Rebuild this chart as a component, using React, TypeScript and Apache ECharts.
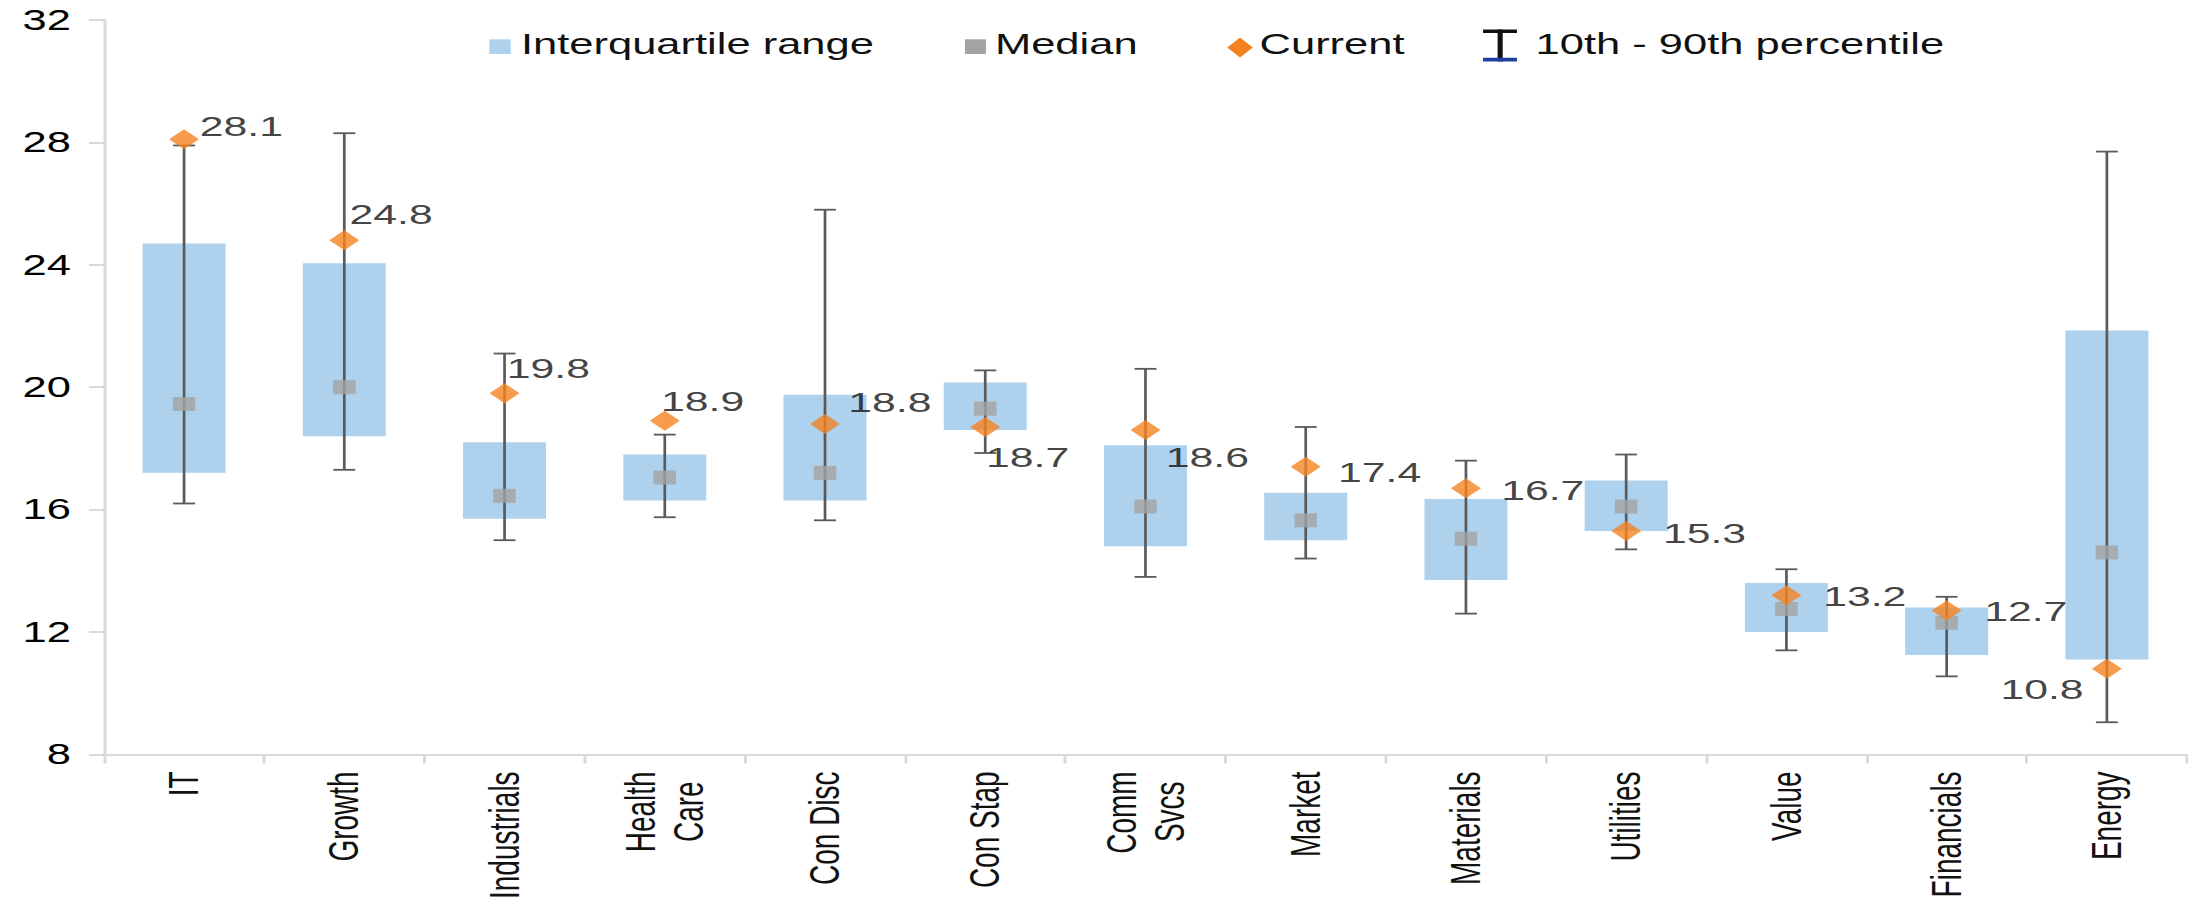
import React, { useEffect, useRef } from "react";
import * as echarts from "echarts";

// ---- data ----
const categories = [
  "IT",
  "Growth",
  "Industrials",
  "Health\nCare",
  "Con Disc",
  "Con Stap",
  "Comm\nSvcs",
  "Market",
  "Materials",
  "Utilities",
  "Value",
  "Financials",
  "Energy",
];
const q1 = [17.2, 18.4, 15.7, 16.3, 16.3, 18.6, 14.8, 15.0, 13.7, 15.3, 12.0, 11.25, 11.1];
const q3 = [24.7, 24.05, 18.2, 17.8, 19.75, 20.15, 18.1, 16.55, 16.35, 16.95, 13.6, 12.8, 21.85];
const median = [19.45, 20.0, 16.45, 17.05, 17.2, 19.3, 16.1, 15.65, 15.05, 16.1, 12.75, 12.3, 14.6];
const p10 = [16.2, 17.3, 15.0, 15.75, 15.65, 17.85, 13.8, 14.4, 12.6, 14.7, 11.4, 10.55, 9.05];
const p90 = [27.9, 28.3, 21.1, 18.45, 25.8, 20.55, 20.6, 18.7, 17.6, 17.8, 14.05, 13.15, 27.7];
const current = [28.1, 24.8, 19.8, 18.9, 18.8, 18.7, 18.6, 17.4, 16.7, 15.3, 13.2, 12.7, 10.8];

const yMin = 8;
const yMax = 32;
const yStep = 4;

const legendNames = ["Interquartile range", "Median", "Current", "10th - 90th percentile"];

// ---- label placement for the "Current" values (style, not data) ----
const currentLabelPlacement: { pos: string; dx: number; dy: number }[] = [
  { pos: "right", dx: 0.5, dy: -13 },
  { pos: "right", dx: -6.5, dy: -26 },
  { pos: "right", dx: -8.5, dy: -25 },
  { pos: "right", dx: -12.5, dy: -20 },
  { pos: "right", dx: 5.5, dy: -22 },
  { pos: "right", dx: -9.5, dy: 30 },
  { pos: "right", dx: 3.5, dy: 27.5 },
  { pos: "right", dx: 11.5, dy: 5 },
  { pos: "right", dx: 13.5, dy: 2 },
  { pos: "right", dx: 14.5, dy: 2 },
  { pos: "right", dx: 14.5, dy: 1 },
  { pos: "right", dx: 15, dy: 1 },
  { pos: "left", dx: -5.5, dy: 20 },
];

const STRETCH = 1.5;
const W = 2188 / STRETCH;
const H = 902;
const FONT = "Liberation Sans";
const BLUE = "#AED2EE";
const GRAY = "#A3A3A3";
const ORANGE = "#F58220";
const WHISKER = "#5A5A5A";
const AXIS = "#D9D9D9";
const TEXT = "#111111";

export default function App() {
  const ref = useRef<HTMLDivElement>(null);

  useEffect(() => {
    document.body.style.margin = "0";
    document.body.style.overflow = "hidden";
    if (!ref.current) return;
    const chart = echarts.init(ref.current, undefined, { renderer: "svg" });

    const boxData = categories.map((_, i) => [i, q1[i], q3[i]]);
    const whiskerData = categories.map((_, i) => [i, p10[i], p90[i]]);
    const currentData = current.map((v, i) => ({
      value: v,
      label: {
        position: currentLabelPlacement[i].pos,
        offset: [currentLabelPlacement[i].dx, currentLabelPlacement[i].dy],
      },
    }));

    const legendY = 44;
    const legendText = (text: string, x: number) => ({
      type: "text",
      x,
      y: legendY,
      style: {
        text,
        fill: TEXT,
        fontSize: 29,
        fontFamily: FONT,
        verticalAlign: "middle",
        align: "left",
      },
    });

    const option: any = {
      animation: false,
      backgroundColor: "#ffffff",
      textStyle: { fontFamily: FONT },
      grid: { left: 69.3, right: 1, top: 20, bottom: 147.3, containLabel: false },
      xAxis: {
        type: "category",
        data: categories,
        boundaryGap: true,
        axisLine: { show: true, lineStyle: { color: AXIS, width: 2 } },
        axisTick: { show: true, length: 9, lineStyle: { color: AXIS, width: 2 } },
        axisLabel: {
          rotate: 90,
          margin: 17,
          interval: 0,
          color: TEXT,
          fontSize: 28,
          fontFamily: FONT,
          lineHeight: 32,
          formatter: (v: string) => {
            if (v.indexOf("\n") < 0) return v;
            const parts = v.split("\n");
            return `{a|${parts[0]}}\n{b|${parts[1]}}`;
          },
          rich: {
            a: { fontSize: 28, fontFamily: FONT, color: TEXT, lineHeight: 32 },
            b: { fontSize: 28, fontFamily: FONT, color: TEXT, lineHeight: 32, padding: [0, 10, 0, 0] },
          },
        },
        splitLine: { show: false },
      },
      yAxis: {
        type: "value",
        min: yMin,
        max: yMax,
        interval: yStep,
        axisLine: { show: true, lineStyle: { color: AXIS, width: 2 } },
        axisTick: { show: true, length: 10, lineStyle: { color: AXIS, width: 2 } },
        axisLabel: { margin: 22, color: "#000", fontSize: 29, fontFamily: FONT },
        splitLine: { show: false },
      },
      graphic: [
        { type: "rect", shape: { x: 326.2, y: 39.3, width: 14.3, height: 14.7 }, style: { fill: BLUE } },
        legendText(legendNames[0], 347.3),
        { type: "rect", shape: { x: 643.3, y: 39.3, width: 14, height: 14.7 }, style: { fill: GRAY } },
        legendText(legendNames[1], 663.3),
        {
          type: "polygon",
          shape: {
            points: [
              [826.7, 37.5],
              [835.2, 47.5],
              [826.7, 57.5],
              [818.2, 47.5],
            ],
          },
          style: { fill: ORANGE },
        },
        legendText(legendNames[2], 839.7),
        { type: "rect", shape: { x: 988.7, y: 29.5, width: 22.6, height: 3.6 }, style: { fill: "#111111" } },
        { type: "rect", shape: { x: 998.4, y: 29.5, width: 3.4, height: 32 }, style: { fill: "#111111" } },
        { type: "rect", shape: { x: 988.7, y: 57.8, width: 22.6, height: 3.6 }, style: { fill: "#1F3F9F" } },
        legendText(legendNames[3], 1023.7),
      ],
      series: [
        {
          name: legendNames[0],
          type: "custom",
          data: boxData,
          encode: { x: 0, y: [1, 2] },
          z: 1,
          renderItem: (params: any, api: any) => {
            const idx = api.value(0);
            const top = api.coord([idx, api.value(2)]);
            const bot = api.coord([idx, api.value(1)]);
            const w = api.size([1, 0])[0] * 0.518;
            return {
              type: "rect",
              shape: { x: top[0] - w / 2, y: top[1], width: w, height: bot[1] - top[1] },
              style: { fill: BLUE },
            };
          },
        },
        {
          name: legendNames[3],
          type: "custom",
          data: whiskerData,
          encode: { x: 0, y: [1, 2] },
          z: 2,
          renderItem: (params: any, api: any) => {
            const idx = api.value(0);
            const lo = api.coord([idx, api.value(1)]);
            const hi = api.coord([idx, api.value(2)]);
            const hw = 7.3;
            const style = { stroke: WHISKER, lineWidth: 1.8 };
            return {
              type: "group",
              children: [
                { type: "line", shape: { x1: lo[0], y1: lo[1], x2: hi[0], y2: hi[1] }, style },
                { type: "line", shape: { x1: hi[0] - hw, y1: hi[1], x2: hi[0] + hw, y2: hi[1] }, style },
                { type: "line", shape: { x1: lo[0] - hw, y1: lo[1], x2: lo[0] + hw, y2: lo[1] }, style },
              ],
            };
          },
        },
        {
          name: legendNames[1],
          type: "scatter",
          data: median,
          symbol: "rect",
          symbolSize: [15, 14],
          itemStyle: { color: GRAY },
          z: 3,
        },
        {
          name: legendNames[2],
          type: "scatter",
          data: currentData,
          symbol: "diamond",
          symbolSize: 20,
          itemStyle: { color: ORANGE },
          z: 4,
          label: {
            show: true,
            distance: 0,
            color: TEXT,
            fontSize: 28.5,
            fontFamily: FONT,
            formatter: (p: any) => Number(p.value).toFixed(1),
          },
        },
      ],
    };

    chart.setOption(option);
    return () => {
      chart.dispose();
    };
  }, []);

  return (
    <div
      style={{
        position: "absolute",
        left: 0,
        top: 0,
        width: 2188,
        height: H,
        overflow: "hidden",
        background: "#fff",
      }}
    >
      <div
        ref={ref}
        style={{
          width: W,
          height: H,
          transform: `scaleX(${STRETCH})`,
          transformOrigin: "0 0",
        }}
      />
    </div>
  );
}
